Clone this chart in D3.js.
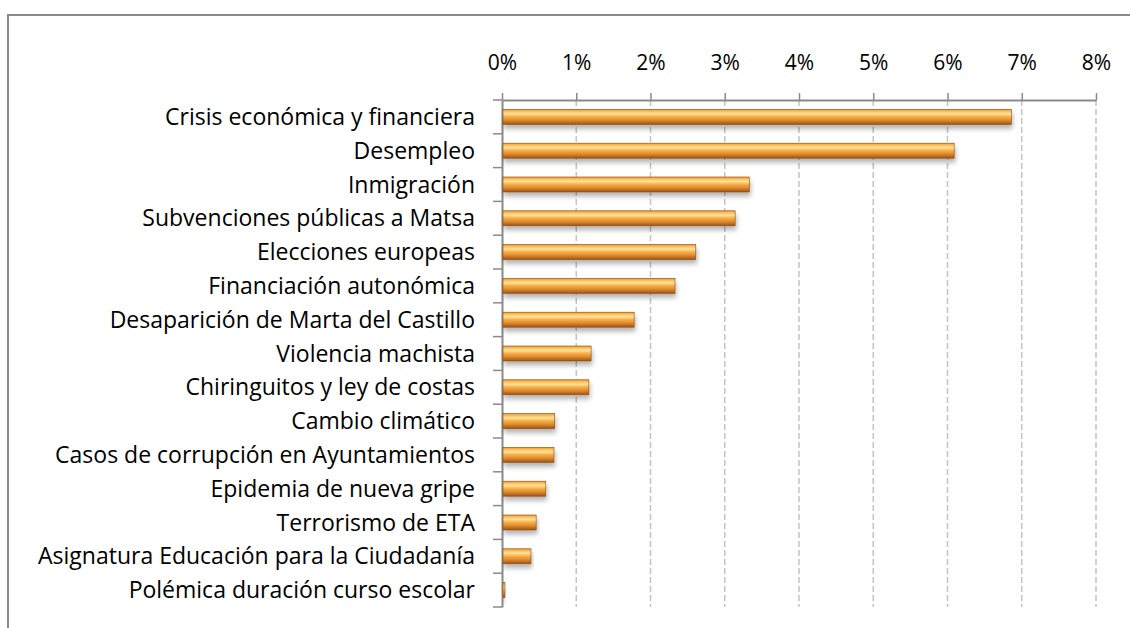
<!DOCTYPE html>
<html>
<head>
<meta charset="utf-8">
<script src="https://cdn.jsdelivr.net/npm/d3@7"></script>
<style>
  body { margin: 0; background: #fff; }
  svg { display: block; font-family: "Open Sans", Lato, sans-serif; }
  .grid line { stroke: #c4c4c4; stroke-width: 1.5; stroke-dasharray: 6 3; }
</style>
</head>
<body>
<div class="container"></div>
<script>
const CATEGORIES = [
    'Crisis económica y financiera',
    'Desempleo',
    'Inmigración',
    'Subvenciones públicas a Matsa',
    'Elecciones europeas',
    'Financiación autonómica',
    'Desaparición de Marta del Castillo',
    'Violencia machista',
    'Chiringuitos y ley de costas',
    'Cambio climático',
    'Casos de corrupción en Ayuntamientos',
    'Epidemia de nueva gripe',
    'Terrorismo de ETA',
    'Asignatura Educación para la Ciudadanía',
    'Polémica duración curso escolar'
];
const VALUES = [6.86, 6.09, 3.33, 3.14, 2.61, 2.33, 1.78, 1.20, 1.17, 0.71, 0.70, 0.59, 0.46, 0.39, 0.04];
const TICKS = [0, 1, 2, 3, 4, 5, 6, 7, 8];

const WIDTH = 1130;
const HEIGHT = 628;
const LEFT = 502;
const RIGHT = 1096;
const TOP = 100;
const BOTTOM = 607;

const svg = d3.select('.container').append('svg')
    .attr('width', WIDTH)
    .attr('height', HEIGHT);

const defs = svg.append('defs');
const grad = defs.append('linearGradient')
    .attr('id', 'barGrad')
    .attr('x1', 0).attr('y1', 0).attr('x2', 0).attr('y2', 1);
[['0%', '#ee9530'], ['15%', '#fcc463'], ['30%', '#ffe39a'], ['48%', '#f7b04a'], ['72%', '#e08a2c'], ['100%', '#9a5318']]
    .forEach(s => grad.append('stop').attr('offset', s[0]).attr('stop-color', s[1]));

const shadow = defs.append('filter').attr('id', 'shadow')
    .attr('x', '-5%').attr('y', '-30%').attr('width', '115%').attr('height', '200%');
shadow.append('feGaussianBlur').attr('in', 'SourceAlpha').attr('stdDeviation', 2.5);
shadow.append('feOffset').attr('dx', 1).attr('dy', 4).attr('result', 'blur');
shadow.append('feComponentTransfer').append('feFuncA').attr('type', 'linear').attr('slope', 0.3);
const merge = shadow.append('feMerge');
merge.append('feMergeNode');
merge.append('feMergeNode').attr('in', 'SourceGraphic');

// frame
svg.append('path')
    .attr('d', `M8,${HEIGHT} V15 H${WIDTH}`)
    .attr('fill', 'none')
    .attr('stroke', '#8a8a8a')
    .attr('stroke-width', 2);

const xScale = d3.scaleLinear().domain([0, 8]).range([LEFT, RIGHT]);
const yScale = d3.scaleBand().domain(CATEGORIES).range([TOP, BOTTOM]);

// gridlines
svg.append('g').attr('class', 'grid')
    .selectAll('line').data(TICKS.slice(1)).enter().append('line')
    .attr('x1', d => xScale(d)).attr('x2', d => xScale(d))
    .attr('y1', TOP).attr('y2', BOTTOM);

// top axis
const xAxis = d3.axisTop(xScale).tickValues(TICKS).tickFormat(d => d + '%')
    .tickSizeInner(7).tickSizeOuter(0).tickPadding(23);
const gx = svg.append('g').attr('transform', `translate(0,${TOP})`).call(xAxis);
gx.select('.domain').attr('stroke', '#8a8a8a').attr('stroke-width', 2);
gx.selectAll('.tick line').attr('stroke', '#8a8a8a').attr('stroke-width', 1.5);
gx.selectAll('.tick text').attr('font-size', 21).attr('fill', '#000')
    .attr('font-family', '"Open Sans", sans-serif');

// left axis
const yAxis = d3.axisLeft(yScale).tickValues([]).tickSizeOuter(0);
const gy = svg.append('g').attr('transform', `translate(${LEFT},0)`).call(yAxis);
gy.select('.domain').attr('stroke', '#8a8a8a').attr('stroke-width', 2);
gy.selectAll('.sep').data(d3.range(CATEGORIES.length + 1)).enter().append('line')
    .attr('x1', -9).attr('x2', 0)
    .attr('y1', i => TOP + i * yScale.step()).attr('y2', i => TOP + i * yScale.step())
    .attr('stroke', '#8a8a8a').attr('stroke-width', 1.5);

// labels
svg.append('g').selectAll('text').data(CATEGORIES).enter().append('text')
    .attr('x', 475)
    .attr('y', d => yScale(d) + yScale.bandwidth() / 2)
    .attr('dy', '0.35em')
    .attr('text-anchor', 'end')
    .attr('font-size', 23)
    .attr('fill', '#000')
    .text(d => d);

// bars
const BAR_H = 15;
svg.append('g').selectAll('rect').data(VALUES).enter().append('rect')
    .attr('x', xScale(0) + 1)
    .attr('y', (d, i) => yScale(CATEGORIES[i]) + yScale.bandwidth() / 2 - BAR_H / 2)
    .attr('width', d => xScale(d) - xScale(0) - 1)
    .attr('height', BAR_H)
    .attr('fill', 'url(#barGrad)')
    .attr('stroke', '#8b4a10')
    .attr('stroke-width', 0.6)
    .attr('filter', 'url(#shadow)');
</script>
</body>
</html>
